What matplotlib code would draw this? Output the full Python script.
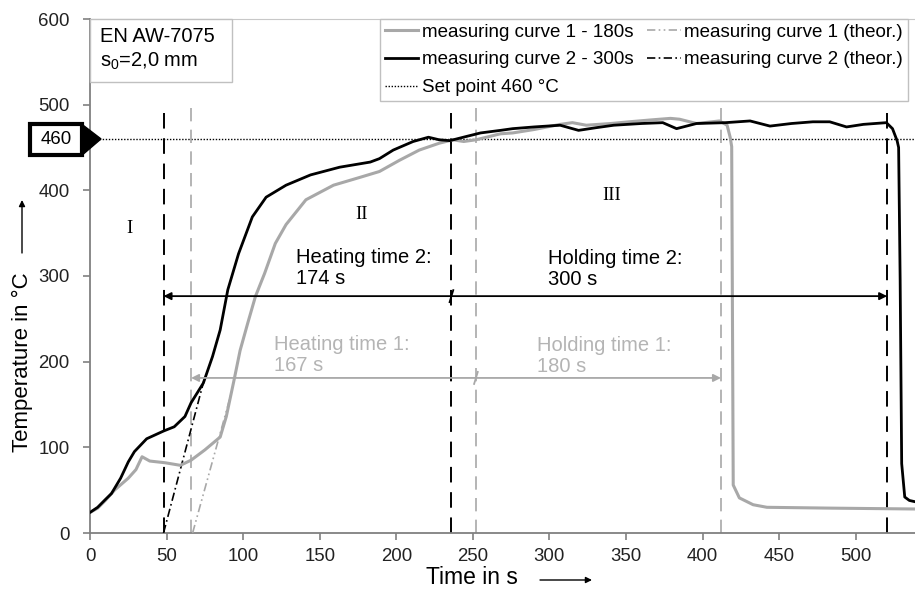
import matplotlib
matplotlib.use('Agg')
import matplotlib.pyplot as plt
from matplotlib.lines import Line2D
from matplotlib.patches import Rectangle, Polygon, FancyArrowPatch

plt.rcParams['font.family'] = ['Liberation Sans', 'DejaVu Sans']
plt.rcParams['mathtext.fontset'] = 'custom'
plt.rcParams['mathtext.rm'] = 'Liberation Sans'

# measuring curve 1 - 180 s (gray)
t1 = [0, 5, 10, 16, 25, 30, 34, 39, 49, 59, 66, 75, 85, 89, 94, 98, 103, 108,
      114, 121, 128, 141, 159, 176, 189, 202, 215, 228, 237, 244, 252, 268,
      276, 290, 307, 315, 324, 340, 352, 365, 379, 385, 396, 411, 416, 418,
      419, 420, 424, 433, 442, 485, 540]
T1 = [24, 29, 38, 50, 64, 74, 89, 84, 82, 79, 85, 97, 112, 136, 178, 213, 245,
      276, 303, 338, 360, 389, 406, 415, 422, 435, 447, 455, 459, 457, 459,
      466, 467, 471, 477, 479, 476, 478, 480, 482, 484, 483, 478, 481, 476,
      462, 451, 56, 41, 33, 30, 29, 28]

# measuring curve 2 - 300 s (black)
t2 = [0, 5, 10, 14, 20, 25, 29, 37, 48, 55, 62, 66, 74, 80, 85, 90, 97, 106,
      115, 128, 144, 163, 183, 189, 198, 211, 221, 228, 235, 246, 255, 268,
      276, 290, 307, 319, 330, 342, 360, 374, 383, 396, 415, 431, 444, 458,
      472, 483, 494, 505, 520, 524, 527, 528, 529, 530, 532, 535, 540]
T2 = [24, 30, 39, 46, 64, 83, 95, 110, 119, 124, 136, 152, 175, 206, 237, 284,
      326, 369, 392, 406, 418, 427, 433, 437, 447, 457, 462, 459, 458, 463,
      467, 470, 472, 474, 476, 470, 473, 476, 478, 479, 472, 478, 479, 481,
      475, 478, 480, 480, 474, 477, 479, 472, 458, 450, 295, 81, 42, 38, 36]

# theoretical heating lines
th1_t = [67, 93]
th1_T = [0, 168]
th2_t = [48, 75]
th2_T = [0, 182]

set_point = 460
v_black = [48, 236, 520.5]   # start heating 2, start holding 2, end holding 2
v_gray = [66, 252, 412]      # start heating 1, start holding 1, end holding 1

GRAY = '#a8a8a8'
W, H = 915, 593


def fx(px):
    return px / W


def fy(py):
    return 1 - py / H


fig = plt.figure(figsize=(9.15, 5.93), dpi=100)
ax = fig.add_axes([fx(90), fy(533), 827 / W, 514 / H])

ax.plot(t1, T1, color=GRAY, lw=2.2, zorder=4)
ax.plot(t2, T2, color='black', lw=2.0, zorder=5)
ax.plot(th1_t, th1_T, color=GRAY, lw=1.2, ls=(0, (5, 2, 1, 2, 1, 2)), zorder=3)
ax.plot(th2_t, th2_T, color='black', lw=1.2, ls=(0, (5, 2, 1, 2)), zorder=3)
ax.axhline(set_point, color='black', lw=1.0, ls=(0, (1, 1.2)), zorder=2)

ax.vlines(v_black, 0, 500, colors='black', lw=1.4, linestyles=(0, (8, 5)), zorder=2)
ax.vlines(v_gray, 0, 500, colors=GRAY, lw=1.2, linestyles=(0, (8, 5)), zorder=2)


# time arrows
def span_arrows(x0, xm, x1, y, color):
    ap = dict(arrowstyle='-|>', color=color, lw=1.3, mutation_scale=11,
              shrinkA=0, shrinkB=0)
    ax.annotate('', xy=(x0, y), xytext=(xm, y), arrowprops=ap, zorder=6)
    ax.annotate('', xy=(x1, y), xytext=(xm, y), arrowprops=ap, zorder=6)
    ax.plot([xm - 1.2, xm + 1.2], [y - 7, y + 7], color=color, lw=1.3, zorder=6)


span_arrows(v_black[0], v_black[1], v_black[2], 276.5, 'black')
span_arrows(v_gray[0], v_gray[1], v_gray[2], 181, GRAY)

ax.text(134.5, 309, 'Heating time 2:\n174 s', fontsize=14.5, va='center',
        linespacing=1.15)
ax.text(299, 308, 'Holding time 2:\n300 s', fontsize=14.5, va='center',
        linespacing=1.15)
ax.text(120, 208, 'Heating time 1:\n167 s', fontsize=14.5, va='center',
        color='#b4b4b4', linespacing=1.15)
ax.text(292, 207, 'Holding time 1:\n180 s', fontsize=14.5, va='center',
        color='#b4b4b4', linespacing=1.15)

ax.text(26, 356, 'I', family='Liberation Serif', fontsize=13.5, ha='center', va='center')
ax.text(177.5, 372, 'II', family='Liberation Serif', fontsize=13.5, ha='center', va='center')
ax.text(340.7, 394, 'III', family='Liberation Serif', fontsize=13.5, ha='center', va='center')

ax.set_xlim(0, 540)
ax.set_ylim(0, 600)
ax.set_xticks(range(0, 501, 50))
ax.set_yticks(range(0, 601, 100))
ax.tick_params(direction='out', length=5, width=1.2, color='#808080',
               labelsize=13.4, labelcolor='#222222')
ax.tick_params(axis='y', pad=9.5)
ax.tick_params(axis='x', pad=6)
for side in ['left', 'bottom']:
    ax.spines[side].set_color('#808080')
    ax.spines[side].set_linewidth(1.3)
ax.spines['top'].set_color('#c8c8c8')
ax.spines['right'].set_visible(False)

# set point marker on the y axis
yt = ax.get_yaxis_transform()
ax.add_patch(Rectangle((-60 / 827, 441), 52 / 827, 36, transform=yt,
                       facecolor='white', edgecolor='black', lw=3, clip_on=False, zorder=7))
ax.add_patch(Polygon([(-8 / 827, 477), (-8 / 827, 441), (11 / 827, set_point)],
                     closed=True, transform=yt, facecolor='black',
                     edgecolor='black', clip_on=False, zorder=7))
ax.text(-34 / 827, 459, str(set_point), transform=yt, fontsize=13.4,
        ha='center', va='center', zorder=8)

# legend
handles = [
    Line2D([], [], color=GRAY, lw=2.2),
    Line2D([], [], color='black', lw=2.0),
    Line2D([], [], color='black', lw=1.0, ls=(0, (1, 1.2))),
    Line2D([], [], color=GRAY, lw=1.2, ls=(0, (5, 2, 1, 2, 1, 2))),
    Line2D([], [], color='black', lw=1.2, ls=(0, (5, 2, 1, 2))),
]
labels = ['measuring curve 1 - 180s', 'measuring curve 2 - 300s',
          'Set point 460 °C', 'measuring curve 1 (theor.)',
          'measuring curve 2 (theor.)']
leg = ax.legend(handles, labels, ncol=2, loc='upper left',
                bbox_to_anchor=(fx(380), fy(19)), bbox_transform=fig.transFigure,
                fontsize=13.5, fancybox=False, framealpha=1, edgecolor='#c0c0c0',
                handlelength=1.8, handletextpad=0.2, columnspacing=0.7,
                labelspacing=0.56, borderpad=0.25, borderaxespad=0)
leg.get_frame().set_linewidth(1.0)

# material box
fig.patches.append(Rectangle((fx(90), fy(82)), 142 / W, 63 / H,
                             transform=fig.transFigure, facecolor='white',
                             edgecolor='#c0c0c0', lw=1.0, zorder=9))
fig.text(fx(100), fy(36), 'EN AW-7075', fontsize=14.5, va='center', zorder=10)
fig.text(fx(100), fy(61), r's$_\mathregular{0}$=2,0 mm', fontsize=14.5,
         va='center', zorder=10)

# axis labels with arrows
fig.text(fx(22), fy(362), 'Temperature in °C', rotation=90, fontsize=16,
         ha='center', va='center')
fig.text(fx(472), fy(578), 'Time in s', fontsize=16.5, ha='center', va='center')
arr = dict(arrowstyle='-|>', color='black', lw=1.0, mutation_scale=9,
           shrinkA=0, shrinkB=0)
fig.add_artist(FancyArrowPatch((fx(22), fy(253)), (fx(22), fy(200)),
                               transform=fig.transFigure, **arr))
fig.add_artist(FancyArrowPatch((fx(540), fy(580)), (fx(592), fy(580)),
                               transform=fig.transFigure, **arr))

fig.savefig('out.png', dpi=100)
